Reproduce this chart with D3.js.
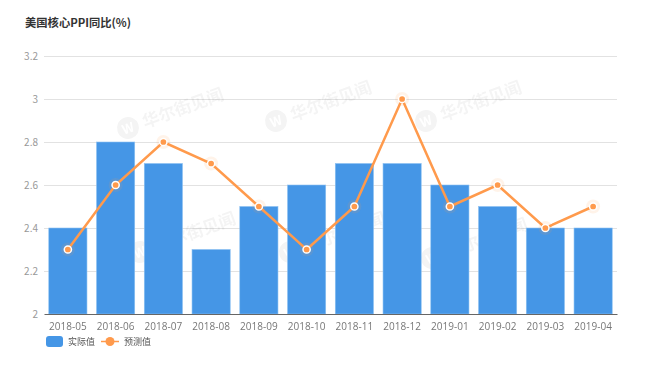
<!DOCTYPE html>
<html><head><meta charset="utf-8">
<script src="https://cdn.jsdelivr.net/npm/d3@7/dist/d3.min.js"></script>
<style>body{margin:0;background:#fff;}svg{display:block;font-family:"Noto Sans CJK SC","Open Sans",sans-serif;}</style>
</head><body><svg id="c" width="653" height="373"></svg>
<script>
const categories = ["2018-05","2018-06","2018-07","2018-08","2018-09","2018-10","2018-11","2018-12","2019-01","2019-02","2019-03","2019-04"];
const actual = [2.4,2.8,2.7,2.3,2.5,2.6,2.7,2.7,2.6,2.5,2.4,2.4];
const forecast = [2.3,2.6,2.8,2.7,2.5,2.3,2.5,3.0,2.5,2.6,2.4,2.5];
const yTicks = [2,2.2,2.4,2.6,2.8,3,3.2];
const yTickLabels = ["2","2.2","2.4","2.6","2.8","3","3.2"];
const title = "美国核心PPI同比(%)";
const legendNames = ["实际值","预测值"];

const svg = d3.select("#c");
const m = {l:44, r:617, t:56, b:314};
const x = d3.scaleBand().domain(categories).range([m.l, m.r]).paddingInner(0.2).paddingOuter(0.1);
const y = d3.scaleLinear().domain([2,3.2]).range([m.b, m.t]);
const barColor = "#4596e6", lineColor = "#ff9a4c";

svg.append("text").attr("x",25).attr("y",27).attr("font-size",11.3).attr("font-weight","bold").attr("fill","#333").text(title);

// grid
svg.append("g").selectAll("line").data(yTicks.slice(1)).join("line")
  .attr("x1",m.l).attr("x2",m.r).attr("y1",d=>y(d)+0.5).attr("y2",d=>y(d)+0.5)
  .attr("stroke","#e2e2e2").attr("stroke-width",1);

// y labels
svg.append("g").selectAll("text").data(yTicks).join("text")
  .attr("x",38).attr("y",d=>y(d)+3.5).attr("text-anchor","end").attr("font-size",10).attr("fill","#999")
  .text((d,i)=>yTickLabels[i]);

// watermarks
const wm = svg.append("g").attr("opacity",0.045);
[[128,128],[276,121],[426,121],[140,252],[290,252],[432,258]].forEach(([cx,cy])=>{
  const g = wm.append("g").attr("transform",`translate(${cx},${cy}) rotate(-20)`);
  g.append("circle").attr("r",11).attr("fill","#000");
  g.append("text").attr("x",0).attr("y",5).attr("text-anchor","middle").attr("font-size",13).attr("font-weight","bold").attr("fill","#fff").text("W");
  g.append("text").attr("x",16).attr("y",6).attr("font-size",17).attr("font-weight","bold").attr("fill","#000").text("华尔街见闻");
});

// bars
svg.append("g").selectAll("rect").data(actual).join("rect")
  .attr("x",(d,i)=>x(categories[i])).attr("width",x.bandwidth())
  .attr("y",d=>y(d)).attr("height",d=>y(2)-y(d))
  .attr("fill",barColor).attr("stroke","#8cc0f2").attr("stroke-width",0.6);

// x axis
const xa = svg.append("g").attr("transform",`translate(0,${m.b})`)
  .call(d3.axisBottom(x).tickSize(0).tickPadding(9));
xa.select(".domain").attr("stroke","#666").attr("stroke-width",1.2);
xa.selectAll("text").attr("font-size",10).attr("fill","#777").attr("font-family","'Open Sans',sans-serif");

// line
const cx = (d,i)=>x(categories[i])+x.bandwidth()/2;
svg.append("path").datum(forecast)
  .attr("d",d3.line().x(cx).y(d=>y(d)))
  .attr("fill","none").attr("stroke",lineColor).attr("stroke-width",2.5);
const pts = svg.append("g").selectAll("g").data(forecast).join("g")
  .attr("transform",(d,i)=>`translate(${cx(d,i)},${y(d)})`);
pts.append("circle").attr("r",7).attr("fill",lineColor).attr("opacity",0.12);
pts.append("circle").attr("r",3.6).attr("fill",lineColor).attr("stroke","#fff").attr("stroke-width",1.5);

// legend
const lg = svg.append("g");
lg.append("rect").attr("x",46).attr("y",336).attr("width",17).attr("height",11).attr("rx",3).attr("fill",barColor);
lg.append("text").attr("x",68).attr("y",345).attr("font-size",9).attr("fill","#555").text(legendNames[0]);
lg.append("line").attr("x1",101).attr("x2",119).attr("y1",341.5).attr("y2",341.5).attr("stroke",lineColor).attr("stroke-width",1.5);
lg.append("circle").attr("cx",110).attr("cy",341.5).attr("r",4.5).attr("fill",lineColor);
lg.append("text").attr("x",124).attr("y",345).attr("font-size",9).attr("fill","#555").text(legendNames[1]);
</script></body></html>
